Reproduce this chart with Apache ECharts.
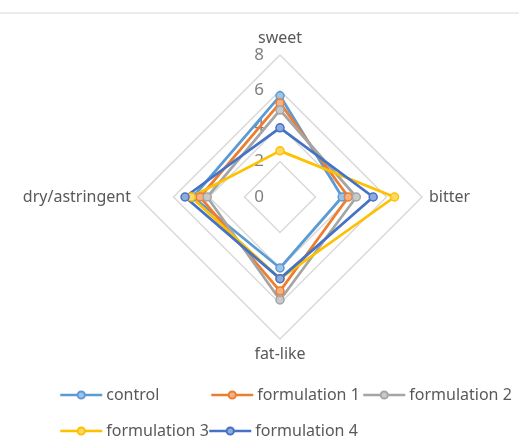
<!DOCTYPE html>
<html>
<head>
<meta charset="utf-8">
<script src="https://cdn.jsdelivr.net/npm/echarts@6/dist/echarts.min.js"></script>
<style>
  html, body { margin: 0; padding: 0; background: #fff; }
  #chart { width: 519px; height: 448px; }
</style>
</head>
<body>
<div id="chart"></div>
<script>
// axis order follows ECharts (counter-clockwise from the top)
const indicators = ['sweet', 'dry/astringent', 'fat-like', 'bitter']
const tickLabels = [0, 2, 4, 6, 8]
const seriesNames = ['control', 'formulation 1', 'formulation 2', 'formulation 3', 'formulation 4']
const control = [5.7, 4.9, 4.0, 3.5]
const formulation1 = [5.3, 4.5, 5.3, 3.85]
const formulation2 = [4.9, 4.1, 5.8, 4.3]
const formulation3 = [2.6, 5.0, 4.6, 6.45]
const formulation4 = [3.9, 5.35, 4.6, 5.25]

const values = [control, formulation1, formulation2, formulation3, formulation4]
const colors = ['#5B9BD5', '#ED7D31', '#A5A5A5', '#FFC000', '#4472C4']
const fills = ['#9DC3E6', '#F4B183', '#C9C9C9', '#FFD966', '#8FAADC']
const textColor = '#595959'
const font = 'Noto Sans'

const chart = echarts.init(document.getElementById('chart'))

// legend positions (Excel lays the entries out in columns)
const legendPos = [[59, 387], [210, 387], [362, 387], [59, 423], [208, 423]]

const option = {
  color: colors,
  animation: false,
  graphic: [{
    type: 'line',
    shape: { x1: 0, y1: 13, x2: 519, y2: 13 },
    style: { stroke: '#D9D9D9', lineWidth: 1 }
  }],
  legend: seriesNames.map((name, i) => ({
    data: [name],
    left: legendPos[i][0],
    top: legendPos[i][1],
    padding: 0,
    itemWidth: 42,
    itemHeight: 9,
    itemGap: 0,
    lineStyle: { width: 2.5 },
    textStyle: { color: textColor, fontSize: 16, fontFamily: font, padding: [0, 0, 0, -1] }
  })),
  // hidden axes only so the legend gets line + marker icons
  grid: { show: false, left: 0, top: 0, width: 1, height: 1 },
  xAxis: { show: false, type: 'value' },
  yAxis: { show: false, type: 'value' },
  radar: {
    center: [280, 197],
    radius: 142,
    shape: 'polygon',
    startAngle: 90,
    splitNumber: tickLabels.length - 1,
    indicator: indicators.map((name, i) => ({
      name: name,
      min: tickLabels[0],
      max: tickLabels[tickLabels.length - 1],
      axisLabel: { show: i === 0 }
    })),
    axisName: { color: textColor, fontSize: 16, fontFamily: font },
    nameGap: 7,
    axisLine: { show: false },
    axisTick: { show: false },
    axisLabel: {
      show: false,
      color: '#7F7F7F',
      fontSize: 17,
      fontFamily: font,
      margin: 16
    },
    splitLine: { lineStyle: { color: '#D9D9D9', width: 1.5 } },
    splitArea: { show: false }
  },
  series: seriesNames.map((name, i) => ({
    name: name,
    type: 'line',
    data: [],
    symbol: 'circle',
    symbolSize: 8,
    lineStyle: { color: colors[i], width: 2.5 },
    itemStyle: { color: fills[i], borderColor: colors[i], borderWidth: 1.5 }
  })).concat([{
    type: 'radar',
    symbol: 'circle',
    symbolSize: 8,
    data: seriesNames.map((name, i) => ({
      name: name,
      value: values[i],
      lineStyle: { color: colors[i], width: 2.75 },
      itemStyle: { color: fills[i], borderColor: colors[i], borderWidth: 1.5 }
    }))
  }])
}

chart.setOption(option)
window.onresize = () => {
  chart.resize()
}
</script>
</body>
</html>
